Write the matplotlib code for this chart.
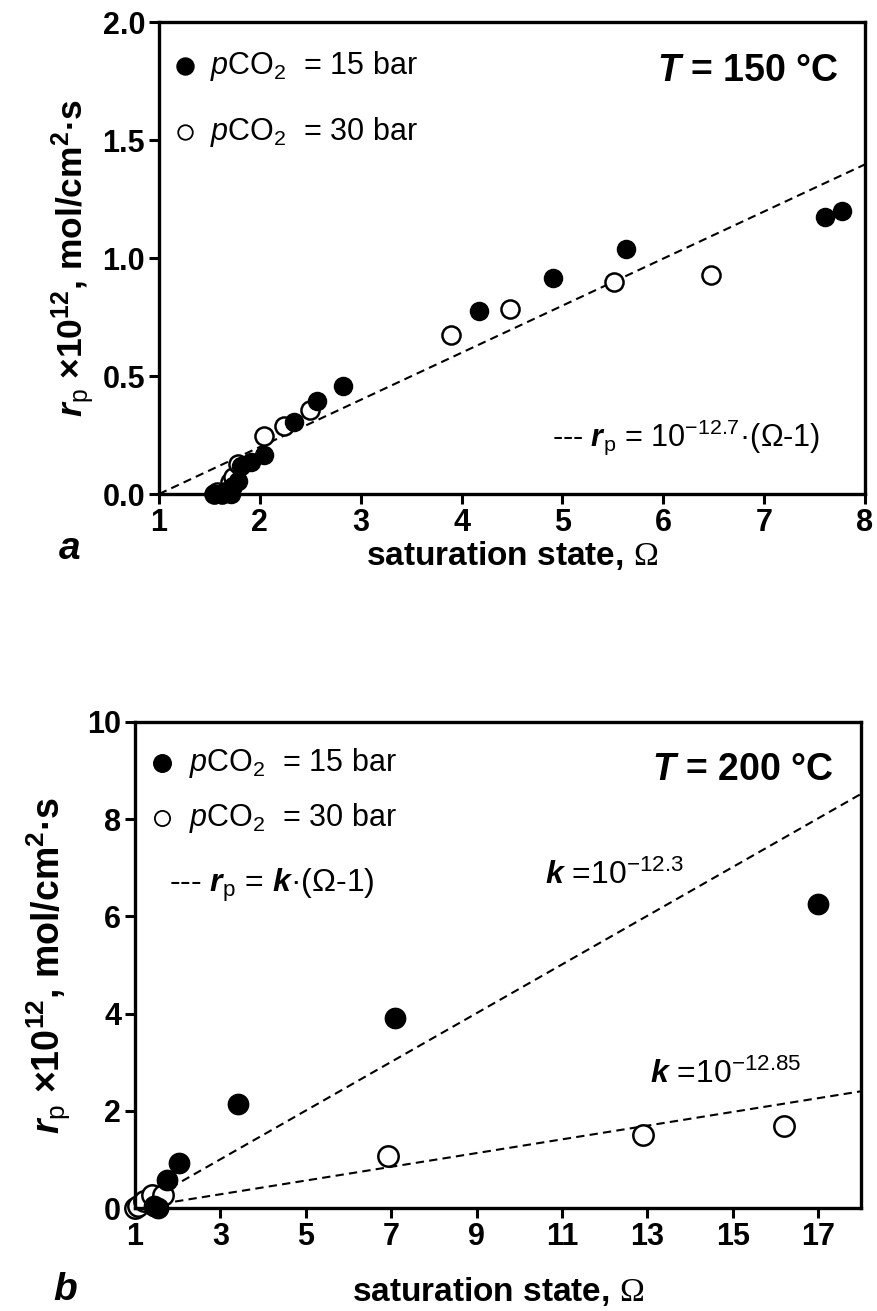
import matplotlib
matplotlib.use("Agg")
import matplotlib.pyplot as plt
import numpy as np

# ---------------- data ----------------
a15_x = [1.56, 1.61, 1.66, 1.71, 1.73, 1.78, 1.81, 1.91, 2.04, 2.34, 2.57, 2.82, 4.17, 4.91, 5.63, 7.60, 7.77]
a15_y = [0.00, 0.00, 0.014, 0.00, 0.035, 0.056, 0.117, 0.134, 0.165, 0.306, 0.395, 0.458, 0.775, 0.915, 1.04, 1.175, 1.20]
a30_x = [1.55, 1.58, 1.62, 1.70, 1.73, 1.78, 2.04, 2.24, 2.50, 3.90, 4.48, 5.51, 6.47]
a30_y = [0.00, 0.01, 0.00, 0.05, 0.07, 0.127, 0.247, 0.289, 0.357, 0.675, 0.785, 0.90, 0.93]
a_logk = -12.7

b15_x = [1.45, 1.55, 1.76, 2.02, 3.42, 7.09, 17.0]
b15_y = [0.05, 0.00, 0.57, 0.93, 2.13, 3.90, 6.26]
b30_x = [1.00, 1.07, 1.20, 1.39, 1.65, 6.93, 12.9, 16.2]
b30_y = [0.00, 0.05, 0.14, 0.27, 0.27, 1.06, 1.51, 1.68]
b_logk = [-12.3, -12.85]

a_xticks = [1, 2, 3, 4, 5, 6, 7, 8]
a_yticks = [0.0, 0.5, 1.0, 1.5, 2.0]
b_xticks = [1, 3, 5, 7, 9, 11, 13, 15, 17]
b_yticks = [0, 2, 4, 6, 8, 10]

# ---------------- style ----------------
FONT = ['Liberation Sans', 'DejaVu Sans']
plt.rcParams['font.family'] = FONT
plt.rcParams['mathtext.fontset'] = 'custom'
plt.rcParams['mathtext.rm'] = 'Liberation Sans'
plt.rcParams['mathtext.it'] = 'Liberation Sans:italic'
plt.rcParams['mathtext.bf'] = 'Liberation Sans:bold'
plt.rcParams['mathtext.bfit'] = 'Liberation Sans:italic:bold'
plt.rcParams['mathtext.cal'] = 'Liberation Serif'
plt.rcParams['mathtext.default'] = 'regular'

W, H = 877, 1311
fig = plt.figure(figsize=(W / 100, H / 100), dpi=100)

def px_axes(l, t, r, b):
    return fig.add_axes([l / W, 1 - b / H, (r - l) / W, (b - t) / H])

axa = px_axes(159, 22, 865, 494)
axb = px_axes(135, 722, 861, 1208)

for ax in (axa, axb):
    for s in ax.spines.values():
        s.set_linewidth(2.4)
    ax.tick_params(direction='out', length=7, width=2.2, labelsize=22, pad=3)

DASH = (0, (4, 2.5))
YLAB = r'$\mathbfit{r}_\mathrm{p}$ $\times$10$^{12}$, mol/cm$^{2}$·s'
XLAB = r'saturation state, $\mathcal{Ω}$'

# ---------------- panel a ----------------
ax = axa
MSA = 170
xx = np.array([1, 8])
ax.plot(xx, 10 ** (a_logk + 12) * (xx - 1), ls=DASH, color='black', lw=1.5, zorder=1)
ax.scatter(a30_x, a30_y, s=MSA, facecolors='white', edgecolors='black', linewidths=1.8, zorder=2, clip_on=False)
ax.scatter(a15_x, a15_y, s=MSA, facecolors='black', edgecolors='black', linewidths=1.0, zorder=3, clip_on=False)
ax.set_xlim(1, 8)
ax.set_ylim(0, 2.0)
ax.set_xticks(a_xticks)
ax.set_yticks(a_yticks)
ax.set_xticklabels([str(v) for v in a_xticks], fontweight='bold')
ax.set_yticklabels(['%.1f' % v for v in a_yticks], fontweight='bold')

ax.scatter([0.037], [0.907], s=150, facecolors='black', edgecolors='black', transform=ax.transAxes, clip_on=False)
ax.scatter([0.037], [0.767], s=110, facecolors='white', edgecolors='black', linewidths=1.3, transform=ax.transAxes, clip_on=False)
ax.text(0.072, 0.907, r'$\mathit{p}$CO$_2$  = 15 bar', transform=ax.transAxes, fontsize=22, va='center', ha='left')
ax.text(0.072, 0.767, r'$\mathit{p}$CO$_2$  = 30 bar', transform=ax.transAxes, fontsize=22, va='center', ha='left')
ax.text(0.962, 0.896, r'$\mathbfit{T}$ = 150 °C', transform=ax.transAxes, fontsize=27, fontweight='bold', va='center', ha='right')
ax.text(0.936, 0.121, r'--- $\mathbfit{r}_\mathrm{p}$ = 10$^{\mathrm{-12.7}}$·(Ω-1)', transform=ax.transAxes, fontsize=22, va='center', ha='right')

ax.set_xlabel(XLAB, fontsize=24, fontweight='bold', labelpad=1)
ax.set_ylabel(YLAB, fontsize=25.5, fontweight='bold', labelpad=4)
fig.text(70 / W, 1 - 549 / H, 'a', fontsize=28, fontweight='bold', fontstyle='italic', ha='center', va='center')

# ---------------- panel b ----------------
ax = axb
MSB = 215
xx = np.array([1, 18])
for lk in b_logk:
    ax.plot(xx, 10 ** (lk + 12) * (xx - 1), ls=DASH, color='black', lw=1.5, zorder=1)
ax.scatter(b30_x, b30_y, s=MSB, facecolors='white', edgecolors='black', linewidths=1.8, zorder=2, clip_on=False)
ax.scatter(b15_x, b15_y, s=MSB, facecolors='black', edgecolors='black', linewidths=1.0, zorder=3, clip_on=False)
ax.set_xlim(1, 18)
ax.set_ylim(0, 10)
ax.set_xticks(b_xticks)
ax.set_yticks(b_yticks)
ax.set_xticklabels([str(v) for v in b_xticks], fontweight='bold')
ax.set_yticklabels([str(v) for v in b_yticks], fontweight='bold')

ax.scatter([0.037], [0.916], s=160, facecolors='black', edgecolors='black', transform=ax.transAxes, clip_on=False)
ax.scatter([0.037], [0.802], s=120, facecolors='white', edgecolors='black', linewidths=1.3, transform=ax.transAxes, clip_on=False)
ax.text(0.074, 0.916, r'$\mathit{p}$CO$_2$  = 15 bar', transform=ax.transAxes, fontsize=22, va='center', ha='left')
ax.text(0.074, 0.802, r'$\mathit{p}$CO$_2$  = 30 bar', transform=ax.transAxes, fontsize=22, va='center', ha='left')
ax.text(0.047, 0.664, r'--- $\mathbfit{r}_\mathrm{p}$ = $\mathbfit{k}$·(Ω-1)', transform=ax.transAxes, fontsize=23, va='center', ha='left')
ax.text(0.962, 0.901, r'$\mathbfit{T}$ = 200 °C', transform=ax.transAxes, fontsize=27, fontweight='bold', va='center', ha='right')
ax.text(10.6, 6.85, r'$\mathbfit{k}$ =10$^{\mathrm{-12.3}}$'.replace('-', '−'), fontsize=23, va='center', ha='left')
ax.text(13.05, 2.75, r'$\mathbfit{k}$ =10$^{\mathrm{-12.85}}$'.replace('-', '−'), fontsize=23, va='center', ha='left')

ax.set_xlabel(XLAB, fontsize=24, fontweight='bold', labelpad=17)
ax.set_ylabel(YLAB, fontsize=27, fontweight='bold', labelpad=10)
fig.text(65 / W, 1 - 1290 / H, 'b', fontsize=28, fontweight='bold', fontstyle='italic', ha='center', va='center')

fig.savefig('out.png', dpi=100)
